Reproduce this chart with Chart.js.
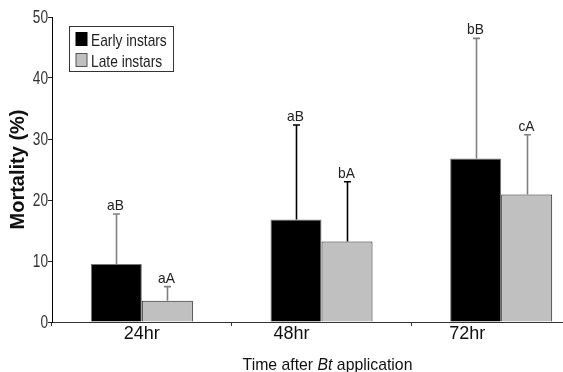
<!DOCTYPE html>
<html><head><meta charset="utf-8">
<script src="https://cdn.jsdelivr.net/npm/chart.js@4"></script>
<style>
html,body{margin:0;padding:0;overflow:hidden;background:#fff;}
#wrap{position:relative;width:591px;height:372px;}
</style></head><body>
<div id="wrap"><canvas id="c"></canvas></div>
<script>
const categories = ['24hr', '48hr', '72hr'];
const seriesNames = ['Early instars', 'Late instars'];
const earlyValues = [9.5, 16.8, 26.8];
const lateValues = [3.5, 13.2, 20.9];
const earlyErrors = [8.2, 15.5, 19.7];
const lateErrors = [2.3, 9.8, 9.8];
const earlyLetters = ['aB', 'aB', 'bB'];
const lateLetters = ['aA', 'bA', 'cA'];
const yAxisTitle = 'Mortality (%)';
const xAxisTitleParts = [['Time after ', false], ['Bt', true], [' application', false]];

const SANS = '"Liberation Sans", Arial, sans-serif';
const errColors = ['#808080', '#000000', '#808080'];
const tickLabelShift = [0, -30, -34];

function narrowText(ctx, text, x, y, k, align) {
  const w = ctx.measureText(text).width * k;
  let dx = 0;
  if (align === 'right') dx = -w;
  else if (align === 'center') dx = -w / 2;
  ctx.save();
  ctx.translate(x + dx, y);
  ctx.scale(k, 1);
  ctx.textAlign = 'left';
  ctx.fillText(text, 0, 0);
  ctx.restore();
  return w;
}

const errorBarPlugin = {
  id: 'errbars',
  afterDatasetsDraw(chart) {
    const ctx = chart.ctx, ys = chart.scales.y;
    chart.data.datasets.forEach((ds, di) => {
      const meta = chart.getDatasetMeta(di);
      meta.data.forEach((bar, i) => {
        const top = ys.getPixelForValue(ds.data[i] + ds.errors[i]);
        const x = Math.round(bar.x) + 0.5;
        ctx.save();
        ctx.strokeStyle = errColors[i];
        ctx.lineWidth = 1.6;
        ctx.beginPath();
        ctx.moveTo(x, bar.y);
        ctx.lineTo(x, top);
        ctx.moveTo(x - 3.5, top);
        ctx.lineTo(x + 3.5, top);
        ctx.stroke();
        ctx.fillStyle = '#222';
        ctx.font = '15px ' + SANS;
        ctx.textBaseline = 'alphabetic';
        narrowText(ctx, ds.letters[i], x - 1, top - 4, 0.92, 'center');
        ctx.restore();
      });
    });
  }
};

const decorPlugin = {
  id: 'decor',
  afterDraw(chart) {
    const ctx = chart.ctx, a = chart.chartArea, xs = chart.scales.x, ys = chart.scales.y;
    ctx.save();
    // y tick labels (narrow)
    ctx.fillStyle = '#333';
    ctx.font = '18px ' + SANS;
    ctx.textBaseline = 'middle';
    ys.ticks.forEach(t => {
      narrowText(ctx, String(t.value), a.left - 4, ys.getPixelForValue(t.value) + 1, 0.76, 'right');
    });
    // x tick labels
    ctx.fillStyle = '#111';
    ctx.font = '18px ' + SANS;
    ctx.textAlign = 'center';
    ctx.textBaseline = 'middle';
    chart.data.labels.forEach((lab, i) => {
      ctx.fillText(lab, xs.getPixelForValue(i) + tickLabelShift[i], a.bottom + 12);
    });
    // x axis title with italic Bt
    let total = 0;
    const parts = xAxisTitleParts.map(([t, it]) => {
      ctx.font = (it ? 'italic ' : '') + '17px ' + SANS;
      const w = ctx.measureText(t).width * 0.93;
      total += w;
      return [t, it, w];
    });
    let x = (a.left + a.right) / 2 + 6 - total / 2;
    ctx.textBaseline = 'alphabetic';
    parts.forEach(([t, it, w]) => {
      ctx.font = (it ? 'italic ' : '') + '17px ' + SANS;
      narrowText(ctx, t, x, a.bottom + 48, 0.93, 'left');
      x += w;
    });
    // legend
    const x0 = Math.round(a.left + 17) + 0.5, y0 = Math.round(a.top + 9) + 0.5;
    ctx.font = '17px ' + SANS;
    const k = 0.81;
    let tw = 0;
    chart.data.datasets.forEach(ds => { tw = Math.max(tw, ctx.measureText(ds.label).width * k); });
    const bw = Math.round(22 + tw + 6), bh = 45;
    ctx.fillStyle = '#fff';
    ctx.fillRect(x0, y0, bw, bh);
    ctx.strokeStyle = '#333';
    ctx.lineWidth = 1;
    ctx.strokeRect(x0, y0, bw, bh);
    chart.data.datasets.forEach((ds, i) => {
      const ry = y0 + 6 + i * 21;
      ctx.fillStyle = ds.backgroundColor;
      ctx.fillRect(x0 + 6.5, ry, 11, 13);
      ctx.strokeStyle = i === 0 ? '#000' : '#555';
      ctx.strokeRect(x0 + 6.5, ry, 11, 13);
      ctx.fillStyle = '#222';
      ctx.textBaseline = 'alphabetic';
      narrowText(ctx, ds.label, x0 + 21.5, ry + 13, k, 'left');
    });
    ctx.restore();
  }
};

new Chart(document.getElementById('c'), {
  type: 'bar',
  data: {
    labels: categories,
    datasets: [
      { label: seriesNames[0], data: earlyValues, errors: earlyErrors, letters: earlyLetters,
        backgroundColor: '#000000', borderColor: '#777777', borderWidth: 1 },
      { label: seriesNames[1], data: lateValues, errors: lateErrors, letters: lateLetters,
        backgroundColor: '#c0c0c0', borderColor: '#222222', borderWidth: 1 }
    ]
  },
  options: {
    responsive: true,
    maintainAspectRatio: false,
    animation: false,
    devicePixelRatio: 1,
    layout: { padding: { top: 17, left: 0, right: 0, bottom: 0 } },
    datasets: { bar: { barPercentage: 1.0, categoryPercentage: 0.568 } },
    plugins: { legend: { display: false }, tooltip: { enabled: false } },
    scales: {
      x: {
        offset: true,
        grid: { display: true, drawOnChartArea: false, drawTicks: true, tickLength: 4, color: '#333', offset: true },
        border: { display: true, color: '#333', width: 1 },
        ticks: { display: false },
        afterFit(scale) { scale.height = 50; }
      },
      y: {
        min: 0, max: 50,
        ticks: { stepSize: 10, display: false },
        grid: { display: true, drawOnChartArea: false, drawTicks: true, tickLength: 4, color: '#222' },
        border: { display: true, color: '#000', width: 1 },
        title: { display: true, text: yAxisTitle, color: '#111', padding: { top: 6, bottom: 0 },
                 font: { family: SANS, size: 20, weight: 'bold' } },
        afterFit(scale) { scale.width = 52; }
      }
    }
  },
  plugins: [errorBarPlugin, decorPlugin]
});
</script>
</body></html>
